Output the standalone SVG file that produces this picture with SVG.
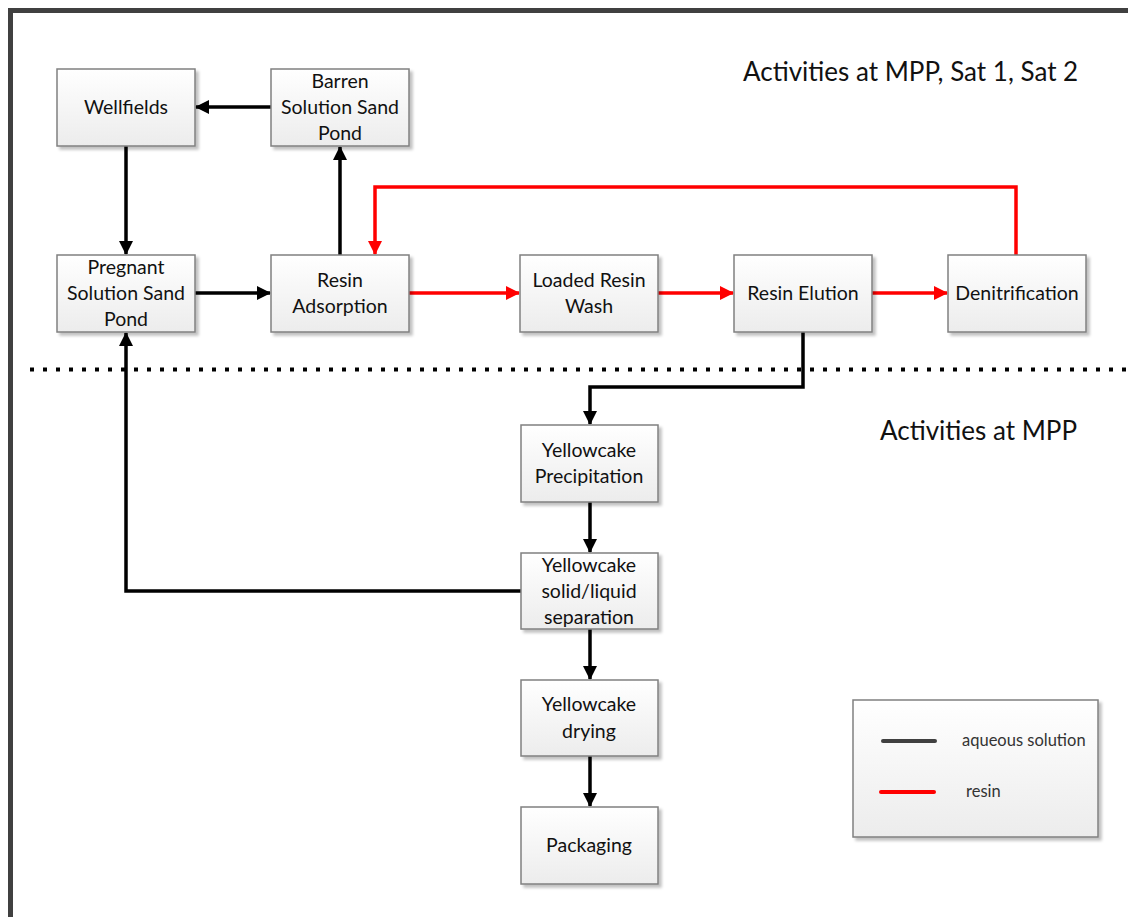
<svg xmlns="http://www.w3.org/2000/svg" width="1128" height="917" viewBox="0 0 1128 917">
<defs>
<linearGradient id="g" x1="0" y1="0" x2="0" y2="1">
<stop offset="0" stop-color="#ffffff"/>
<stop offset="1" stop-color="#ececec"/>
</linearGradient>
<filter id="sh" x="-10%" y="-10%" width="130%" height="130%">
<feGaussianBlur in="SourceAlpha" stdDeviation="1.5"/>
<feOffset dx="3" dy="3" result="b"/>
<feComponentTransfer><feFuncA type="linear" slope="0.25"/></feComponentTransfer>
<feMerge><feMergeNode/><feMergeNode in="SourceGraphic"/></feMerge>
</filter>
<marker id="ak" markerWidth="14" markerHeight="14" refX="13" refY="7" orient="auto" markerUnits="userSpaceOnUse">
<path d="M0,0 L14,7 L0,14 Z" fill="#000"/>
</marker>
<marker id="ar" markerWidth="14" markerHeight="14" refX="13" refY="7" orient="auto" markerUnits="userSpaceOnUse">
<path d="M0,0 L14,7 L0,14 Z" fill="#ff0000"/>
</marker>
</defs>
<style>
.box{fill:url(#g);stroke:#808080;stroke-width:1.5;filter:url(#sh)}
.t{font-family:Lato,"Open Sans","Liberation Sans",sans-serif;font-size:19.5px;fill:#111;text-anchor:middle}
.h{font-family:Lato,"Open Sans","Liberation Sans",sans-serif;font-size:26px;fill:#111}
.lg{font-family:Lato,"Open Sans","Liberation Sans",sans-serif;font-size:16.5px;fill:#333}
.k{fill:none;stroke:#000;stroke-width:3.5}
.r{fill:none;stroke:#ff0000;stroke-width:3.5}
</style>
<rect x="0" y="0" width="1128" height="917" fill="#fff"/>
<rect x="10.5" y="10.5" width="1140" height="940" fill="#fff" stroke="#404040" stroke-width="5"/>
<line x1="30" y1="369.5" x2="1128" y2="369.5" stroke="#000" stroke-width="4" stroke-dasharray="4 9"/>
<text class="h" x="743" y="81">Activities at MPP, Sat 1, Sat 2</text>
<text class="h" x="880" y="440">Activities at MPP</text>
<g id="connectors">
<path class="k" d="M271,107 H196" marker-end="url(#ak)"/>
<path class="k" d="M126,146 V254" marker-end="url(#ak)"/>
<path class="k" d="M340,255 V147" marker-end="url(#ak)"/>
<path class="k" d="M195,293 H270" marker-end="url(#ak)"/>
<path class="r" d="M409,293 H519" marker-end="url(#ar)"/>
<path class="r" d="M658,293 H733" marker-end="url(#ar)"/>
<path class="r" d="M872,293 H947" marker-end="url(#ar)"/>
<path class="r" d="M1016,255 V187 H375 V254" marker-end="url(#ar)"/>
<path class="k" d="M803,332 V387 H590 V424" marker-end="url(#ak)"/>
<path class="k" d="M590,502 V552" marker-end="url(#ak)"/>
<path class="k" d="M521,591 H126 V333" marker-end="url(#ak)"/>
<path class="k" d="M590,629 V679" marker-end="url(#ak)"/>
<path class="k" d="M590,756 V806" marker-end="url(#ak)"/>
</g>
<g id="wellfields"><rect class="box" x="57" y="69" width="138" height="77"/><text class="t" x="126" y="114">Wellfields</text></g>
<g id="barren"><rect class="box" x="271" y="69" width="138" height="77"/><text class="t" x="340" y="88">Barren</text><text class="t" x="340" y="114">Solution Sand</text><text class="t" x="340" y="140">Pond</text></g>
<g id="pregnant"><rect class="box" x="57" y="255" width="138" height="77"/><text class="t" x="126" y="274">Pregnant</text><text class="t" x="126" y="300">Solution Sand</text><text class="t" x="126" y="326">Pond</text></g>
<g id="resin-adsorption"><rect class="box" x="271" y="255" width="138" height="77"/><text class="t" x="340" y="287">Resin</text><text class="t" x="340" y="313">Adsorption</text></g>
<g id="loaded-resin-wash"><rect class="box" x="520" y="255" width="138" height="77"/><text class="t" x="589" y="287">Loaded Resin</text><text class="t" x="589" y="313">Wash</text></g>
<g id="resin-elution"><rect class="box" x="734" y="255" width="138" height="77"/><text class="t" x="803" y="300">Resin Elution</text></g>
<g id="denitrification"><rect class="box" x="948" y="255" width="138" height="77"/><text class="t" x="1017" y="300">Denitrification</text></g>
<g id="precipitation"><rect class="box" x="521" y="425" width="137" height="77"/><text class="t" x="589" y="457">Yellowcake</text><text class="t" x="589" y="483">Precipitation</text></g>
<g id="separation"><rect class="box" x="521" y="553" width="137" height="76"/><text class="t" x="589" y="572">Yellowcake</text><text class="t" x="589" y="598">solid/liquid</text><text class="t" x="589" y="624">separation</text></g>
<g id="drying"><rect class="box" x="521" y="680" width="137" height="76"/><text class="t" x="589" y="711">Yellowcake</text><text class="t" x="589" y="738">drying</text></g>
<g id="packaging"><rect class="box" x="521" y="807" width="137" height="77"/><text class="t" x="589" y="852">Packaging</text></g>
<g id="legend"><rect class="box" x="853" y="700" width="245" height="137"/>
<line x1="883" y1="741" x2="935" y2="741" stroke="#404040" stroke-width="4" stroke-linecap="round"/>
<line x1="881" y1="792" x2="934" y2="792" stroke="#ff0000" stroke-width="4" stroke-linecap="round"/>
<text class="lg" x="962" y="746">aqueous solution</text>
<text class="lg" x="966" y="797">resin</text>
</g>
</svg>
